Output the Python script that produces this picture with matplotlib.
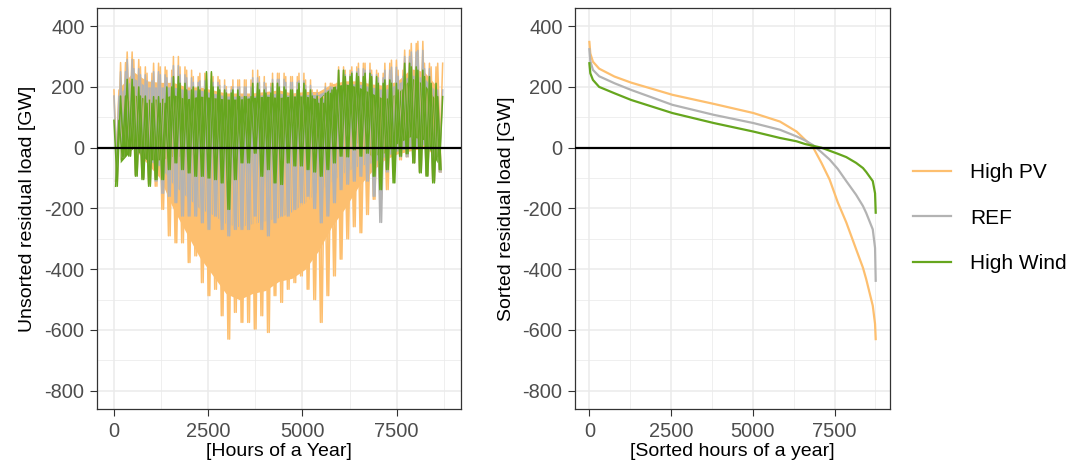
#!/usr/bin/env python3
import numpy as np
import matplotlib
matplotlib.use('Agg')
from matplotlib import pyplot as plt
from matplotlib.ticker import MultipleLocator

plt.rcParams['font.family'] = ['Liberation Sans', 'DejaVu Sans']
plt.rcParams['axes.unicode_minus'] = False

# series names and colours
names = ['High PV', 'REF', 'High Wind']
colors = ['#FDBF6F', '#B3B3B3', '#66A61E']

# unsorted hourly residual load, extremes (min/max) per 175 h block
bin_width = 175
pv_hi = [190, 280, 315, 290, 266, 245, 278, 266, 255, 300,
         266, 255, 234, 245, 245, 234, 223, 201, 223, 223,
         223, 255, 234, 212, 245, 245, 234, 234, 245, 223,
         190, 168, 212, 212, 266, 255, 266, 278, 278, 255,
         245, 278, 288, 255, 321, 343, 350, 278, 266, 278]
pv_lo = [-110, -20, -20, -90, -100, -120, -127, -203, -290, -313,
         -313, -378, -356, -444, -487, -466, -553, -630, -542, -575,
         -575, -597, -553, -608, -487, -509, -466, -444, -422, -466,
         -500, -575, -487, -422, -367, -300, -260, -280, -220, -170,
         -170, -138, -80, -40, -30, -50, -80, -90, -110, -80]
ref_hi = [170, 250, 290, 260, 240, 220, 250, 240, 230, 270,
          240, 230, 215, 220, 225, 215, 205, 190, 200, 200,
          200, 230, 215, 200, 225, 225, 215, 215, 220, 205,
          180, 160, 200, 200, 255, 240, 250, 260, 255, 240,
          230, 255, 265, 235, 300, 315, 320, 260, 200, 190]
ref_lo = [-110, -30, -25, -90, -100, -120, -110, -150, -160, -181,
          -225, -225, -225, -247, -269, -225, -269, -290, -269, -269,
          -269, -225, -269, -290, -247, -225, -225, -203, -181, -160,
          -200, -247, -225, -181, -138, -120, -110, -94, -110, -160,
          -246, -80, -60, -30, -30, -50, -80, -90, -110, -80]
wind_hi = [90, 170, 225, 200, 170, 146, 168, 146, 200, 234,
           212, 190, 200, 190, 250, 200, 190, 180, 190, 168,
           168, 212, 190, 180, 212, 200, 190, 190, 212, 190,
           170, 146, 179, 190, 255, 234, 245, 234, 245, 234,
           212, 223, 212, 190, 278, 266, 255, 234, 212, 168]
wind_lo = [-127, -30, -28, -94, -105, -127, -105, -105, -72, -50,
           -72, -83, -94, -94, -100, -105, -116, -203, -105, -50,
           -50, -18, -94, -72, -116, -121, -50, -60, -60, -72,
           -80, -94, -72, -50, -28, -30, -7, -28, -18, -94,
           -138, -72, -116, -28, -20, -50, -83, -94, -116, -72]

# dense core of each series per 350 h block (where most hours lie)
core_width = 350
pv_core_hi = [200, 250, 220, 215, 215, 200, 200, 190, 180, 180, 180, 185, 190,
              180, 185, 185, 210, 220, 220, 210, 205, 220, 260, 250, 200]
pv_core_lo = [-40, 0, -50, -100, -200, -280, -360, -420, -480, -500, -480, -470,
              -440, -430, -400, -340, -260, -200, -130, -80, -40, -20, -10, 0, -30]
ref_core_hi = [180, 230, 200, 200, 200, 190, 190, 180, 170, 170, 170, 175, 180,
               170, 175, 175, 200, 210, 210, 200, 190, 210, 240, 230, 180]
ref_core_lo = [-40, 0, -40, -60, -120, -160, -200, -220, -250, -260, -250, -240,
               -230, -210, -180, -140, -110, -80, -60, -50, -30, -10, 0, 10, -30]
wind_core_hi = [114, 175, 160, 160, 175, 160, 170, 165, 160, 160, 165, 170, 165,
                170, 170, 160, 200, 210, 200, 180, 160, 180, 230, 210, 150]
wind_core_lo = [-50, 0, -40, -40, -28, -28, -17, -28, -40, -50, -28, -28, -7,
                -7, -17, -50, 15, 26, 15, -28, -17, 15, 37, 26, -50]

# sorted duration curves
sorted_hours = [1, 30, 110, 300, 770, 1280, 2540, 3810, 5020, 5830, 6340,
                6600, 6850, 7100, 7350, 7600, 7860, 8160, 8370, 8470,
                8670, 8740, 8760]
pv_sorted = [348, 310, 283, 260, 234, 214, 174, 144, 114, 86, 53,
             26, 0, -50, -105, -180, -246, -334, -395, -433,
             -520, -580, -630]
ref_sorted = [324, 285, 256, 235, 212, 190, 141, 108, 81, 59, 37,
              24, 8, -15, -39, -70, -110, -155, -192, -215,
              -269, -330, -438]
wind_sorted = [278, 245, 223, 200, 179, 157, 114, 81, 53, 32, 21,
               12, 6, 0, -10, -20, -31, -50, -67, -80,
               -110, -150, -214]

fig = plt.figure(figsize=(10.7, 4.73), dpi=100)
ax1 = fig.add_axes([0.0907, 0.1353, 0.340, 0.848])
ax2 = fig.add_axes([0.5374, 0.1353, 0.2944, 0.848])

block_start = np.arange(len(pv_hi)) * bin_width
core_mid = np.arange(len(pv_core_hi)) * core_width + core_width / 2
series = [(pv_lo, pv_hi, pv_core_lo, pv_core_hi),
          (ref_lo, ref_hi, ref_core_lo, ref_core_hi),
          (wind_lo, wind_hi, wind_core_lo, wind_core_hi)]
for (lo, hi, clo, chi), c in zip(series, colors):
    ax1.fill_between(core_mid, clo, chi, color=c, lw=0)
    # spikes: each block swings between its max and min, drawn twice
    # (max first, then min first) so the swings sit close together
    xs = np.column_stack([block_start + 10, block_start + 10 + bin_width / 2]).ravel()
    ax1.plot(xs, np.column_stack([hi, lo]).ravel(), color=c, lw=1.1)
    ax1.plot(xs + bin_width / 4, np.column_stack([lo, hi]).ravel(), color=c, lw=1.1)

lines = []
for ys, c, n in zip([pv_sorted, ref_sorted, wind_sorted], colors, names):
    ln, = ax2.plot(sorted_hours, ys, color=c, lw=1.6, label=n)
    lines.append(ln)

for ax in (ax1, ax2):
    ax.axhline(0, color='black', lw=1.6, zorder=3)
    ax.set_xlim(-438, 9198)
    ax.set_ylim(-860, 460)
    ax.xaxis.set_minor_locator(MultipleLocator(1250))
    ax.yaxis.set_minor_locator(MultipleLocator(100))
    ax.set_xticks([0, 2500, 5000, 7500])
    ax.set_yticks(range(-800, 401, 200))
    ax.grid(which='major', color='#EBEBEB', lw=1.1)
    ax.grid(which='minor', color='#EBEBEB', lw=0.55)
    ax.set_axisbelow(True)
    ax.tick_params(which='major', length=5, width=0.8, pad=4, color='#333333',
                   labelcolor='#4D4D4D', labelsize=14.4)
    ax.tick_params(which='minor', length=0)
    for s in ax.spines.values():
        s.set_color('#333333')
        s.set_linewidth(0.9)

ax1.set_xlabel('[Hours of a Year]', fontsize=14, labelpad=2)
ax1.set_ylabel('Unsorted residual load [GW]', fontsize=14, labelpad=6)
ax2.set_xlabel('[Sorted hours of a year]', fontsize=14, labelpad=2)
ax2.set_ylabel('Sorted residual load [GW]', fontsize=14, labelpad=5)

fig.legend(handles=lines, loc='center left', bbox_to_anchor=(0.8455, 0.539),
           frameon=False, fontsize=15, handlelength=1.8, handletextpad=0.95,
           labelspacing=1.27, borderaxespad=0)

plt.savefig('out.png', dpi=100)
